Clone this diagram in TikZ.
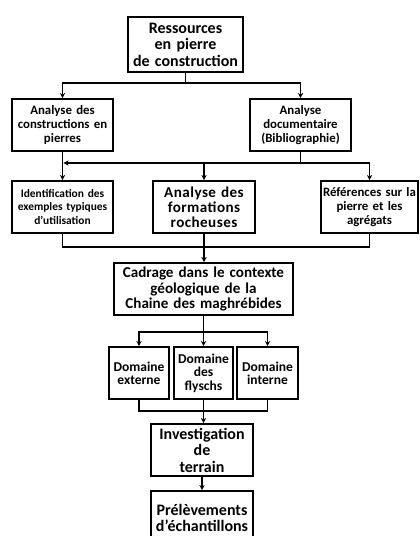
\documentclass[tikz,border=0pt]{standalone}
\usepackage{fontspec}
\setmainfont{Carlito}
\usetikzlibrary{arrows.meta}
\newcommand{\midaA}{\fontsize{9.1}{9.4}\selectfont}
\newcommand{\midaB}{\fontsize{7.3}{8.2}\selectfont}
\newcommand{\midaC}{\fontsize{6.5}{7.6}\selectfont}
\newcommand{\midaD}{\addfontfeatures{LetterSpace=3}\fontsize{8.6}{8.4}\selectfont}
\newcommand{\midaE}{\fontsize{7.7}{7.6}\selectfont}
\newcommand{\midaF}{\fontsize{8.6}{8.8}\selectfont}
\tikzset{
  caixa/.style={draw, line width=0.9pt, align=center, inner sep=1pt},
  fletxa/.style={-{Stealth[length=3pt,width=3pt]}, line width=0.8pt},
  linia/.style={line width=0.8pt}
}

\begin{document}
\begin{tikzpicture}[x=0.02cm, y=-0.02cm]
	% marc
	\clip (0,0) rectangle (419,536);
	% caixes
	\node[caixa, minimum width=2.3cm, minimum height=1.1cm, text width=2.22cm, font=\bfseries\midaA] (res) at (185.5,44.5) {Ressources\\en pierre\\de construction};
	\node[caixa, minimum width=2.02cm, minimum height=1.04cm, text width=1.94cm, font=\bfseries\midaB] (acp) at (62.5,125) {Analyse des\\constructions en\\pierres};
	\node[caixa, minimum width=2.02cm, minimum height=1.04cm, text width=1.94cm, font=\bfseries\midaB] (adoc) at (300.5,125) {Analyse\\documentaire\\(Bibliographie)};
	\node[caixa, minimum width=2.02cm, minimum height=1.04cm, text width=1.94cm, font=\bfseries\midaC] (ident) at (62.5,207) {Identification des\\exemples typiques\\d'utilisation};
	\node[caixa, minimum width=2.04cm, minimum height=1.04cm, text width=1.96cm, font=\bfseries\midaD] (aform) at (204,207) {Analyse des\\formations\\rocheuses};
	\node[caixa, minimum width=1.94cm, minimum height=1.04cm, text width=1.87cm, font=\bfseries\midaB] (ref) at (369.5,207) {Références sur la\\pierre et les\\agrégats};
	\node[caixa, minimum width=3.58cm, minimum height=1.04cm, text width=3.5cm, font=\bfseries\midaF] (cad) at (203.5,289) {Cadrage dans le contexte\\géologique de la\\Chaine des maghrébides};
	\node[caixa, minimum width=1.2cm, minimum height=1.04cm, text width=1.12cm, font=\bfseries\midaE] (dext) at (139,373) {Domaine\\externe};
	\node[caixa, minimum width=1.18cm, minimum height=1.04cm, text width=1.1cm, font=\bfseries\midaE] (dfly) at (203.5,373) {Domaine\\des\\flyschs};
	\node[caixa, minimum width=1.22cm, minimum height=1.04cm, text width=1.14cm, font=\bfseries\midaE] (dint) at (267.5,373) {Domaine\\interne};
	\node[caixa, minimum width=2.04cm, minimum height=1.04cm, text width=1.96cm, font=\bfseries\midaA] (inv) at (202,450) {Investigation\\de\\terrain};
	\node[caixa, minimum width=2.04cm, minimum height=1.08cm, text width=1.96cm, font=\bfseries\midaA] (prel) at (202,518) {Prélèvements\\d'échantillons};
	% punts d'unio
	\coordinate (j1) at (185.5,83);
	\coordinate (j2) at (300.5,163);
	\coordinate (j3) at (204,247);
	\coordinate (j4) at (203.5,332);
	\coordinate (j5) at (203.5,411);
	% fletxes
	\draw[linia] (res.south) -- (j1);
	\draw[fletxa] (j1) -| (acp.north);
	\draw[fletxa] (j1) -| (adoc.north);
	\draw[linia] (adoc.south) -- (j2);
	\draw[fletxa] (j2) -| (ref.north);
	\draw[fletxa] (j2) -| (aform.north);
	\draw[fletxa, shorten >=0.5pt] (j2) -- (acp.south |- j2);
	\draw[fletxa] (acp.south) -- (ident.north);
	\draw[linia] (ident.south) |- (j3) -| (ref.south);
	\draw[fletxa] (aform.south) -- (aform.south |- cad.north);
	\draw[linia] (cad.south) -- (j4);
	\draw[fletxa] (j4) -| (dext.north);
	\draw[fletxa] (j4) -| (dint.north);
	\draw[fletxa] (j4) -- (dfly.north);
	\draw[linia] (dext.south) |- (j5) -| (dint.south);
	\draw[fletxa] (dfly.south) -- (dfly.south |- inv.north);
	\draw[fletxa] (inv.south) -- (prel.north);
\end{tikzpicture}
\end{document}
